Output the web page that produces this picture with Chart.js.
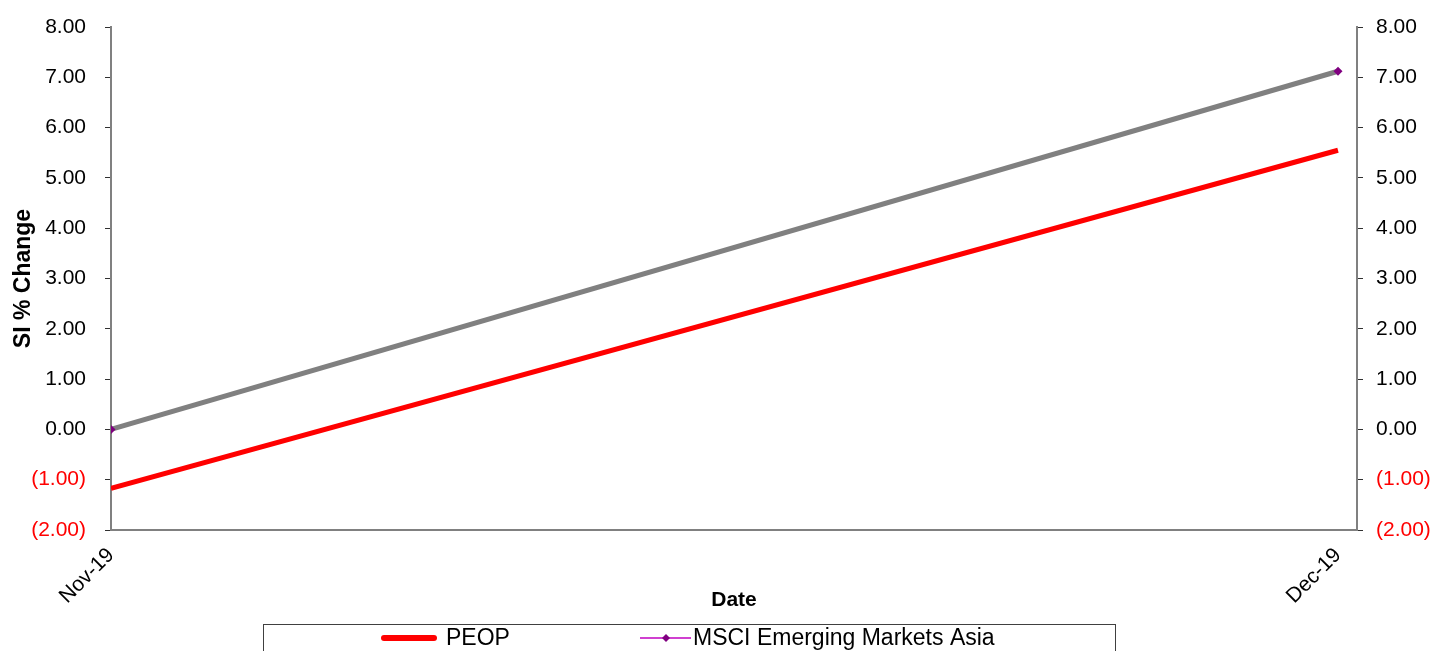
<!DOCTYPE html>
<html>
<head>
<meta charset="utf-8">
<script src="https://cdn.jsdelivr.net/npm/chart.js@4"></script>
<style>
  body { margin: 0; background: #fff; }
  #wrap { width: 1432px; height: 651px; position: relative; }
</style>
</head>
<body>
<div id="wrap"><canvas id="myChart"></canvas></div>
<script>
// data
const dates = ['Nov-19', 'Dec-19'];
const peop = [-1.17, 5.55];
const msci = [0.00, 7.12];
const seriesNames = ['PEOP', 'MSCI Emerging Markets Asia'];

const FONT = 'Liberation Sans, Arial, sans-serif';
const GREY = '#808080';

function fmt(v) {
    const s = Math.abs(v).toFixed(2);
    return v < 0 ? '(' + s + ')' : s;
}

function toPoints(arr) {
    return arr.map((v, i) => ({ x: i, y: v }));
}

// excel-ish legend box under the axis
const boxLegend = {
    id: 'boxLegend',
    afterDraw(chart) {
        const c = chart.ctx;
        c.save();
        c.strokeStyle = '#404040';
        c.lineWidth = 1;
        c.strokeRect(263.5, 624.5, 852, 40);
        const y = 638;
        // PEOP
        c.strokeStyle = '#ff0000';
        c.lineWidth = 6;
        c.lineCap = 'round';
        c.beginPath(); c.moveTo(384, y); c.lineTo(434, y); c.stroke();
        // MSCI
        c.strokeStyle = '#c000c0';
        c.lineWidth = 1.5;
        c.lineCap = 'butt';
        c.beginPath(); c.moveTo(640, y); c.lineTo(691, y); c.stroke();
        c.fillStyle = '#800080';
        c.beginPath();
        c.moveTo(666, y - 4); c.lineTo(670, y); c.lineTo(666, y + 4); c.lineTo(662, y);
        c.closePath(); c.fill();
        c.fillStyle = '#000';
        c.font = '23px ' + FONT;
        c.textBaseline = 'middle';
        c.fillText(seriesNames[0], 446, y + 1);
        c.fillText(seriesNames[1], 693, y + 1);
        c.restore();
    }
};

const ctx = document.getElementById('myChart').getContext('2d');
const myChart = new Chart(ctx, {
    type: 'line',
    data: {
        datasets: [{
            label: seriesNames[1],
            data: toPoints(msci),
            borderColor: GREY,
            borderWidth: 5,
            pointStyle: 'rectRot',
            pointRadius: 4.5,
            pointBackgroundColor: '#800080',
            pointBorderColor: '#800080',
            pointBorderWidth: 0,
            tension: 0
        }, {
            label: seriesNames[0],
            data: toPoints(peop),
            borderColor: '#ff0000',
            borderWidth: 5,
            pointRadius: 0,
            tension: 0
        }]
    },
    options: {
        responsive: true,
        maintainAspectRatio: false,
        animation: false,
        layout: { padding: { top: 27, left: 0, right: 0, bottom: 0 } },
        plugins: {
            legend: { display: false },
            tooltip: { enabled: false }
        },
        scales: {
            x: {
                type: 'linear',
                min: 0,
                max: 1.0155,
                afterBuildTicks: axis => { axis.ticks = dates.map((d, i) => ({ value: i })); },
                afterFit: s => { s.height = 121; },
                grid: { display: false },
                border: { color: GREY, width: 2 },
                ticks: {
                    minRotation: 45,
                    maxRotation: 45,
                    padding: 5,
                    color: '#000',
                    font: { family: FONT, size: 21 },
                    callback: v => dates[v]
                },
                title: {
                    display: true,
                    text: 'Date',
                    color: '#000',
                    font: { family: FONT, size: 21, weight: 'bold' },
                    padding: { top: 0, bottom: 38 }
                }
            },
            y: {
                position: 'left',
                min: -2,
                max: 8,
                afterFit: s => { s.width = 111; },
                grid: { drawOnChartArea: false, tickLength: 6, color: '#303030' },
                border: { color: GREY, width: 2 },
                ticks: {
                    stepSize: 1,
                    padding: 19,
                    font: { family: FONT, size: 21, lineHeight: 0.6 },
                    color: c => c.tick.value < 0 ? '#ff0000' : '#000',
                    callback: v => fmt(v)
                },
                title: {
                    display: true,
                    text: 'SI % Change',
                    color: '#000',
                    font: { family: FONT, size: 23, weight: 'bold' },
                    padding: { top: 10, bottom: 0 }
                }
            },
            y2: {
                position: 'right',
                min: -2,
                max: 8,
                afterFit: s => { s.width = 75; },
                grid: { drawOnChartArea: false, tickLength: 6, color: '#303030' },
                border: { color: GREY, width: 2 },
                ticks: {
                    stepSize: 1,
                    padding: 13,
                    font: { family: FONT, size: 21, lineHeight: 0.6 },
                    color: c => c.tick.value < 0 ? '#ff0000' : '#000',
                    callback: v => fmt(v)
                }
            }
        }
    },
    plugins: [boxLegend]
});
</script>
</body>
</html>
